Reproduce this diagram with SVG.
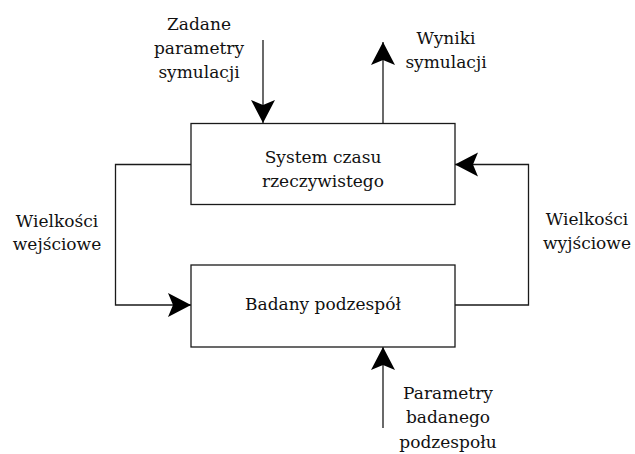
<svg xmlns="http://www.w3.org/2000/svg" width="635" height="454" viewBox="0 0 635 454">
  <style>
    .box { fill: #ffffff; stroke: #1a1a1a; stroke-width: 1.3; }
    .wire { fill: none; stroke: #1a1a1a; stroke-width: 1.3; }
    text { font-family: "DejaVu Serif", "Liberation Serif", serif; font-size: 17px; fill: #111111; text-anchor: middle; }
  </style>
  <defs>
    <!-- barbed arrowhead, tip at the line end -->
    <marker id="arrow" markerUnits="userSpaceOnUse" markerWidth="26" markerHeight="26" viewBox="-24 -13 26 26" refX="0" refY="0" orient="auto">
      <path d="M0,0 L-23,-12 L-18,0 L-23,12 Z" fill="#000000"/>
    </marker>
  </defs>
  <rect width="635" height="454" fill="#ffffff"/>

  <g id="connectors">
    <!-- simulation parameters into the real-time system -->
    <path class="wire" d="M263,40 V123" marker-end="url(#arrow)"/>
    <!-- simulation results out of the real-time system -->
    <path class="wire" d="M383,123 V42" marker-end="url(#arrow)"/>
    <!-- input quantities: real-time system to tested component -->
    <path class="wire" d="M191,164.5 H115.5 V305 H191" marker-end="url(#arrow)"/>
    <!-- output quantities: tested component back to real-time system -->
    <path class="wire" d="M455,305 H528.5 V164.5 H455" marker-end="url(#arrow)"/>
    <!-- tested component parameters -->
    <path class="wire" d="M383,428 V347" marker-end="url(#arrow)"/>
  </g>

  <g id="system">
    <rect class="box" x="191" y="123.5" width="264" height="81"/>
    <text x="323" y="163">System czasu</text>
    <text x="323" y="186.5">rzeczywistego</text>
  </g>

  <g id="component">
    <rect class="box" x="191" y="265" width="264" height="82"/>
    <text x="323" y="310">Badany podzespół</text>
  </g>

  <g id="label-sim-params">
    <text x="199" y="30">Zadane</text>
    <text x="199" y="54">parametry</text>
    <text x="199" y="78">symulacji</text>
  </g>

  <g id="label-results">
    <text x="446" y="44">Wyniki</text>
    <text x="446" y="68">symulacji</text>
  </g>

  <g id="label-inputs">
    <text x="57" y="226.5">Wielkości</text>
    <text x="57" y="250">wejściowe</text>
  </g>

  <g id="label-outputs">
    <text x="587" y="225">Wielkości</text>
    <text x="587" y="248.5">wyjściowe</text>
  </g>

  <g id="label-component-params">
    <text x="448" y="399">Parametry</text>
    <text x="448" y="423">badanego</text>
    <text x="448" y="447.5">podzespołu</text>
  </g>
</svg>
